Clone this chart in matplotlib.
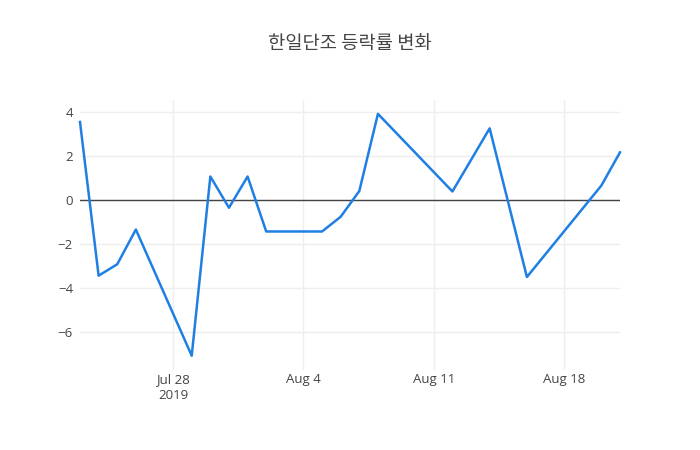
"""
한일단조 등락률 변화 - daily change rate line chart (plotly-like look).
"""
import datetime as dt

import matplotlib
matplotlib.use("Agg")
import matplotlib.pyplot as plt

TITLE = "한일단조 등락률 변화"

dates = [
    "2019-07-23", "2019-07-24", "2019-07-25", "2019-07-26", "2019-07-29",
    "2019-07-30", "2019-07-31", "2019-08-01", "2019-08-02", "2019-08-05",
    "2019-08-06", "2019-08-07", "2019-08-08", "2019-08-12", "2019-08-14",
    "2019-08-16", "2019-08-20", "2019-08-21",
]
change_rate = [
    3.55, -3.44, -2.92, -1.34, -7.08,
    1.07, -0.35, 1.07, -1.43, -1.43,
    -0.76, 0.41, 3.92, 0.39, 3.26,
    -3.50, 0.66, 2.17,
]
tick_dates = ["2019-07-28", "2019-08-04", "2019-08-11", "2019-08-18"]
tick_labels = ["Jul 28\n2019", "Aug 4", "Aug 11", "Aug 18"]
y_ticks = [-6, -4, -2, 0, 2, 4]

TEXT_COLOR = "#444444"
GRID_COLOR = "#eeeeee"
LINE_COLOR = "#1f7fe3"

plt.rcParams["font.family"] = ["Open Sans", "Noto Sans CJK KR", "DejaVu Sans"]

x = [dt.datetime.strptime(d, "%Y-%m-%d") for d in dates]
xt = [dt.datetime.strptime(d, "%Y-%m-%d") for d in tick_dates]

fig = plt.figure(figsize=(7, 4.5), dpi=100)
ax = fig.add_axes([80 / 700, 80 / 450, 540 / 700, 270 / 450])

ax.plot(x, change_rate, color=LINE_COLOR, linewidth=1.8, zorder=3, clip_on=False)
ax.axhline(0, color=TEXT_COLOR, linewidth=1, zorder=2)

ax.set_xlim(x[0], x[-1])
ax.set_ylim(-7.73, 4.55)
ax.set_xticks(xt)
ax.set_xticklabels(tick_labels)
ax.set_yticks(y_ticks)
ax.set_yticklabels([str(v).replace("-", "\u2212") for v in y_ticks])

ax.grid(True, color=GRID_COLOR, linewidth=1, zorder=0)
for s in ax.spines.values():
    s.set_visible(False)
ax.tick_params(length=0, labelsize=9.5, colors=TEXT_COLOR, pad=5)
ax.tick_params(axis="x", pad=2)
for lbl in ax.get_xticklabels():
    lbl.set_linespacing(1.35)

fig.text(0.5, 1 - 44 / 450, TITLE, ha="center", va="center", fontsize=13.5,
         color=TEXT_COLOR, family=["Noto Sans CJK KR", "DejaVu Sans"])

fig.savefig("out.png", dpi=100, facecolor="white")
